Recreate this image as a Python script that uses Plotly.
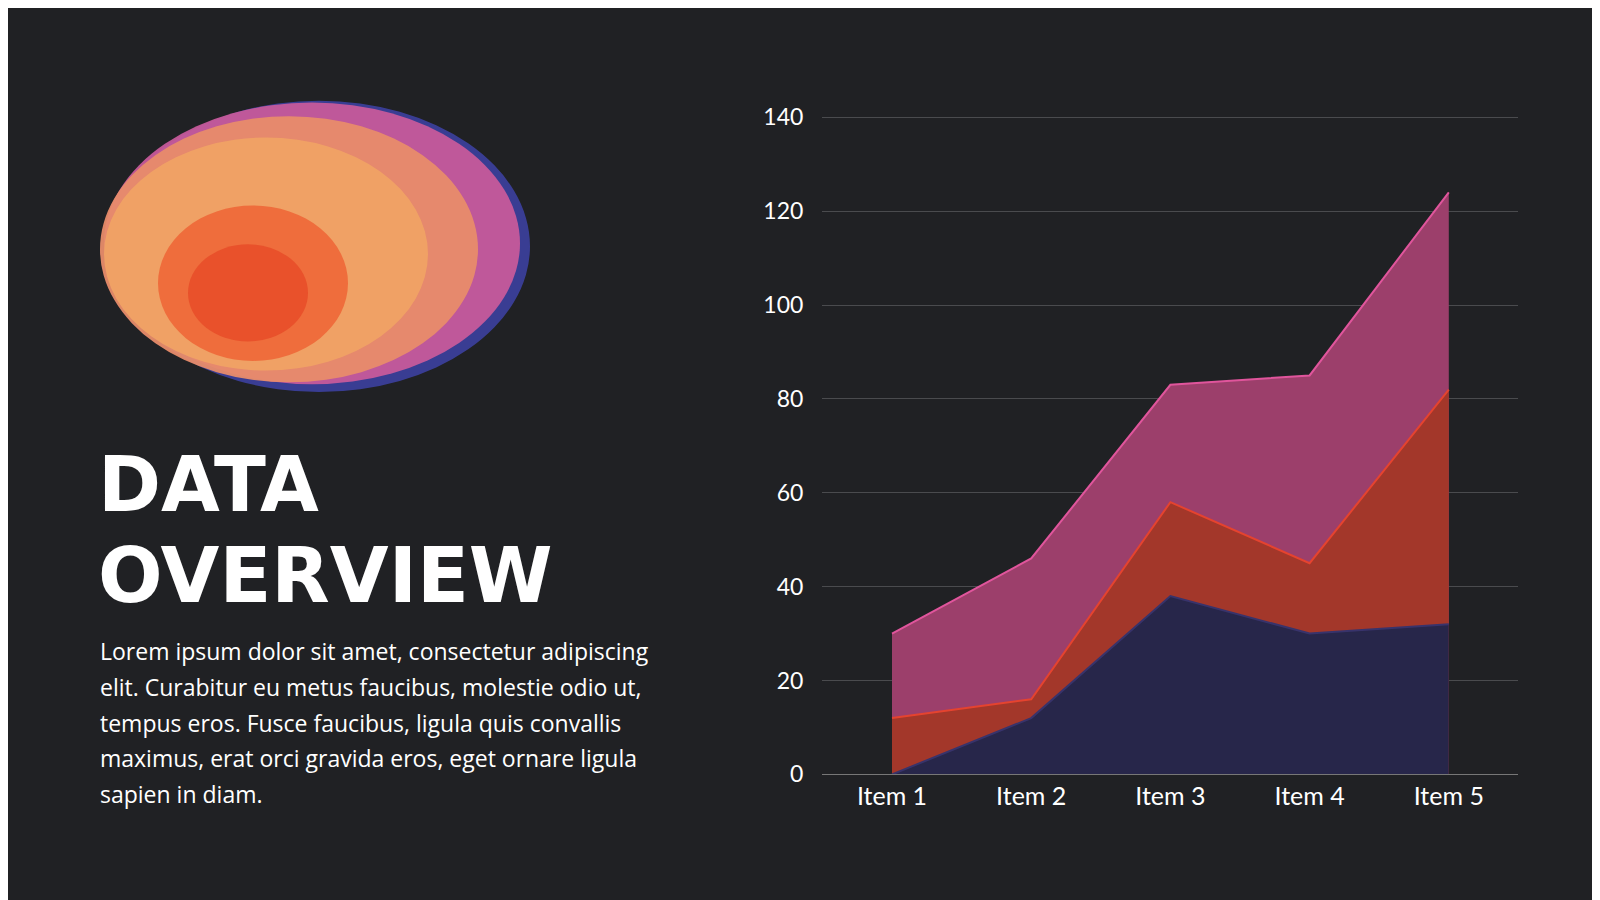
import plotly.graph_objects as go

categories = ["Item 1", "Item 2", "Item 3", "Item 4", "Item 5"]
series_pink = [30, 46, 83, 85, 124]
series_red = [12, 16, 58, 45, 82]
series_blue = [0, 12, 38, 30, 32]
y_ticks = [0, 20, 40, 60, 80, 100, 120, 140]

fig = go.Figure()
for vals, fill, line in [(series_pink, "#9c3f6b", "#e0559c"),
                         (series_red, "#a3372a", "#e5432f"),
                         (series_blue, "#27264a", "#38336b")]:
    fig.add_trace(go.Scatter(x=categories, y=vals, mode="lines", fill="tozeroy",
                             fillcolor=fill, line=dict(color=line, width=2), showlegend=False))

fig.update_layout(
    width=1600, height=900, paper_bgcolor="#202124", plot_bgcolor="#202124",
    margin=dict(l=0, r=0, t=0, b=0),
    font=dict(family="Lato", color="#ffffff"),
    xaxis=dict(domain=[0.509, 0.944], range=[-0.5, 4.5], showgrid=False,
               showline=True, linecolor="#777", tickfont=dict(size=25, color="#fff"), ticks=""),
    yaxis=dict(domain=[0.138, 0.892], range=[0, 140.4], tickvals=y_ticks, gridcolor="#4a4b4e",
               zeroline=False, tickfont=dict(size=23, color="#fff"), ticklabelstandoff=18),
)

# decorative ellipse disk
shapes = [
    dict(x0=100, x1=522, y0=82, y1=382, color="#3b3f9a"),
    dict(x0=96, x1=512, y0=84, y1=374, color="#c65a9a"),
    dict(x0=92, x1=470, y0=98, y1=372, color="#e88c6a"),
    dict(x0=96, x1=420, y0=120, y1=360, color="#f0a265"),
    dict(x0=150, x1=340, y0=190, y1=350, color="#ee6a3a"),
    dict(x0=180, x1=300, y0=230, y1=330, color="#e8502a"),
]
for s in shapes:
    fig.add_shape(type="circle", xref="paper", yref="paper",
                  x0=s["x0"]/1600, x1=s["x1"]/1600, y0=1-s["y1"]/900, y1=1-s["y0"]/900,
                  fillcolor=s["color"], line=dict(width=0), opacity=0.95, layer="below")

for txt, yc in [("DATA", 477), ("OVERVIEW", 571)]:
    fig.add_annotation(xref="paper", yref="paper", x=88/1600, y=1-yc/900, xanchor="left", yanchor="middle",
                       text="<b>" + txt + "</b>", showarrow=False, align="left",
                       font=dict(family="DejaVu Sans", size=76, color="#ffffff"))

para_lines = ["Lorem ipsum dolor sit amet, consectetur adipiscing",
              "elit. Curabitur eu metus faucibus, molestie odio ut,",
              "tempus eros. Fusce faucibus, ligula quis convallis",
              "maximus, erat orci gravida eros, eget ornare ligula",
              "sapien in diam."]
for i, ln in enumerate(para_lines):
    fig.add_annotation(xref="paper", yref="paper", x=90/1600, y=1-(649 + 36.8*i)/900,
                       xanchor="left", yanchor="middle", text=ln, showarrow=False, align="left",
                       font=dict(family="Open Sans", size=23, color="#ffffff"))

fig.write_html("out.html")
